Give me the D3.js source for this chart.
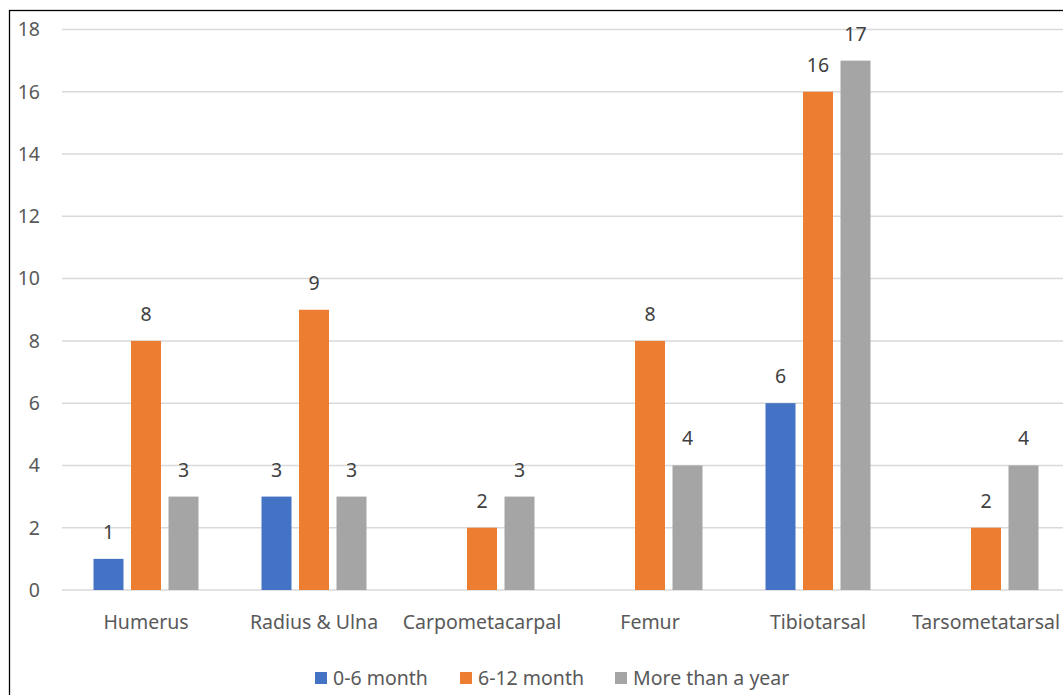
<!DOCTYPE html>
<html><head><meta charset="utf-8">
<script src="https://cdn.jsdelivr.net/npm/d3@7"></script>
<style>body{margin:0;background:#fff;} svg{display:block;}</style>
</head><body>
<svg id="c" width="1063" height="695"></svg>
<script>
const categories = ["Humerus","Radius & Ulna","Carpometacarpal","Femur","Tibiotarsal","Tarsometatarsal"];
const seriesNames = ["0-6 month","6-12 month","More than a year"];
const s0_6 = [1,3,null,null,6,null];
const s6_12 = [8,9,2,8,16,2];
const sYear = [3,3,3,4,17,4];
const yTicks = [0,2,4,6,8,10,12,14,16,18];
const colors = ["#4472C4","#ED7D31","#A5A5A5"];
const series = [s0_6, s6_12, sYear];

const svg = d3.select("#c");
const font = "'Noto Sans', sans-serif";
const fs = 19.5;
const textCol = "#595959";
svg.append("rect").attr("x",9.5).attr("y",10.5).attr("width",1200).attr("height",1000)
  .attr("fill","#fff").attr("stroke","#000").attr("stroke-width",1.3);

const x0 = d3.scaleBand().domain(categories).range([62,1070]).paddingInner(0).paddingOuter(0);
const y = d3.scaleLinear().domain([0,18]).range([590,29.5]);
const groupW = 105;
const x1 = d3.scaleBand().domain([0,1,2]).range([0,groupW]).paddingInner(0.2).paddingOuter(0);

// gridlines
svg.append("g").selectAll("line").data(yTicks).join("line")
  .attr("x1",62).attr("x2",1063).attr("y1",d=>y(d)).attr("y2",d=>y(d))
  .attr("stroke","#D9D9D9").attr("stroke-width",1.5);

// y labels
svg.append("g").selectAll("text").data(yTicks).join("text")
  .attr("x",40).attr("y",d=>y(d)).attr("dy","0.35em").attr("text-anchor","end")
  .attr("font-family",font).attr("font-size",fs).attr("fill",textCol).text(d=>d);

const g = svg.append("g");
series.forEach((s,si)=>{
  const data = categories.map((c,i)=>({c,v:s[i]})).filter(d=>d.v!=null);
  const gx = d=> x0(d.c)+x0.bandwidth()/2 - groupW/2 + x1(si);
  g.append("g").selectAll("rect").data(data).join("rect")
    .attr("x",gx).attr("y",d=>y(d.v)).attr("width",x1.bandwidth())
    .attr("height",d=>y(0)-y(d.v)).attr("fill",colors[si]);
  g.append("g").selectAll("text").data(data).join("text")
    .attr("x",d=>gx(d)+x1.bandwidth()/2).attr("y",d=>y(d.v)-20)
    .attr("text-anchor","middle").attr("font-family",font).attr("font-size",fs)
    .attr("fill","#404040").text(d=>d.v);
});

// category labels
svg.append("g").selectAll("text").data(categories).join("text")
  .attr("x",d=>x0(d)+x0.bandwidth()/2).attr("y",622).attr("dy","0.35em")
  .attr("text-anchor","middle").attr("font-family",font).attr("font-size",fs)
  .attr("fill",textCol).text(d=>d);

// legend
const legX = [315,460,615];
const leg = svg.append("g");
seriesNames.forEach((n,i)=>{
  leg.append("rect").attr("x",legX[i]).attr("y",672).attr("width",12).attr("height",12).attr("fill",colors[i]);
  leg.append("text").attr("x",legX[i]+18).attr("y",678).attr("dy","0.35em")
    .attr("font-family",font).attr("font-size",fs).attr("fill",textCol).text(n);
});
</script>
</body></html>
